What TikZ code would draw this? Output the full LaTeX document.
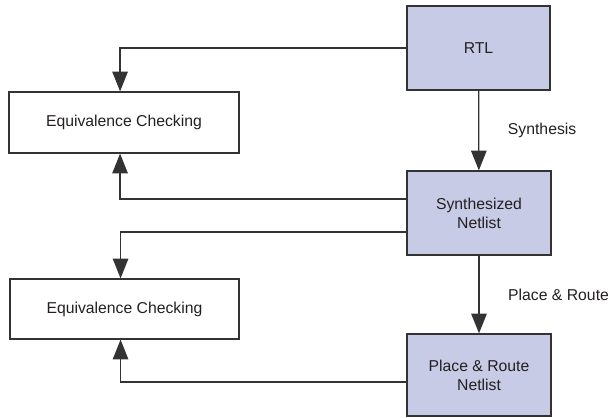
\documentclass[tikz,border=0pt]{standalone}
\usepackage{fontspec}
\setmainfont{Liberation Sans}
\usepackage{tikz}
\usetikzlibrary{arrows.meta}

\begin{document}
\begin{tikzpicture}[x=0.025cm, y=-0.025cm,
        font=\fontsize{11.2}{13.5}\selectfont,
        flowbox/.style={draw=lineColor, line width=0.9pt, align=center, inner sep=0pt, text=textColor},
        netbox/.style={flowbox, fill=netColor},
        flow/.style={draw=lineColor, line width=0.9pt, -{Triangle[length=14pt, width=11pt]}}]
        %--- Arguments ----
        \definecolor{netColor}{HTML}{C8CBE6} % colour of netlist boxes
        \definecolor{lineColor}{HTML}{333333} % colour of lines
        \definecolor{textColor}{HTML}{231F20} % colour of texts
        \def \shift {-2.8pt} % checks run left of box centre
        %--- Frame ---
        \useasboundingbox (0,0) rectangle (610,418);
        %--- Boxes ---
        \node [netbox, minimum width=3.575cm, minimum height=2.1cm] (rtl) at (478.5,48) {RTL};
        \node [netbox, minimum width=3.6cm, minimum height=2.1cm] (synth) at (479,213) {Synthesized\\Netlist};
        \node [netbox, minimum width=3.6cm, minimum height=2.05cm] (pr) at (479,375) {Place \& Route\\Netlist};
        \node [flowbox, minimum width=5.75cm, minimum height=1.525cm] (eqa) at (124,122.5) {Equivalence Checking};
        \node [flowbox, minimum width=5.725cm, minimum height=1.5cm] (eqb) at (124.5,309) {Equivalence Checking};
        %--- Main flow ---
        \draw [flow] (rtl) -- node [right=17pt, text=textColor] {Synthesis} (synth);
        \draw [flow] (synth) -- node [right=17pt, text=textColor] {Place \& Route} (pr);
        %--- Checks ---
        % RTL against synthesized netlist
        \draw [flow] (rtl.west) -| ([xshift=\shift]eqa.north);
        \draw [flow] ([yshift=10pt]synth.west) -| ([xshift=\shift]eqa.south);
        % synthesized against place & route netlist
        \draw [flow] ([yshift=-13.5pt]synth.west) -| ([xshift=\shift]eqb.north);
        \draw [flow] ([yshift=-5pt]pr.west) -| ([xshift=\shift]eqb.south);
\end{tikzpicture}
\end{document}
